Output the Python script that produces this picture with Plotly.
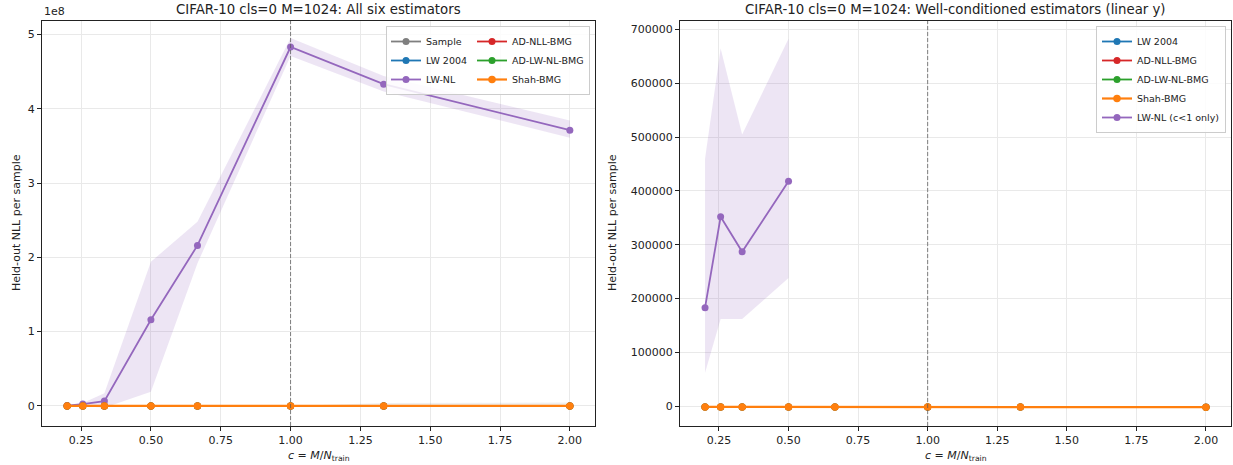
import plotly.graph_objects as go

# ---------------- data ----------------
c_vals = [0.2, 0.256, 1/3, 0.5, 2/3, 1.0, 4/3, 2.0]

# left panel (all six estimators)
sample_nll = [-1350, -1320, -1250, -1000, -400, -300, -200, -100]
sample_lo = [-1350, -1320, -1250, -1000, -400, -300, -200, -100]
sample_hi = [-1350, -1320, -1250, -1000, -400, -300, 3800000, 4600000]
lw2004_nll = [-1480, -1510, -1540, -1600, -1650, -1720, -1790, -1900]
lwnl_nll = [500000, 2500000, 6500000, 116000000, 216000000, 483000000, 433000000, 371000000]
lwnl_lo = [0, 0, -2500000, 19000000, 192000000, 471000000, 423000000, 361000000]
lwnl_hi = [600000, 4000000, 17000000, 194000000, 248000000, 495000000, 444000000, 384000000]
adnll_nll = [-1530, -1560, -1590, -1650, -1700, -1770, -1840, -1950]
adlwnl_nll = [-1520, -1550, -1580, -1640, -1690, -1760, -1830, -1940]
shah_nll = [-1550, -1580, -1610, -1670, -1720, -1790, -1860, -1970]

# right panel (LW-NL restricted to c<1)
c_small = [0.2, 0.256, 1/3, 0.5]
lwnl_small = [183000, 352000, 287000, 418000]
lwnl_small_lo = [62000, 162000, 162000, 238000]
lwnl_small_hi = [460000, 665000, 505000, 683000]

left_yticks = [0, 100000000, 200000000, 300000000, 400000000, 500000000]
left_yticktext = ["0", "1", "2", "3", "4", "5"]
right_yticks = [0, 100000, 200000, 300000, 400000, 500000, 600000, 700000]
xticks = [0.25, 0.5, 0.75, 1.0, 1.25, 1.5, 1.75, 2.0]

# ---------------- style ----------------
GRAY = "#7f7f7f"
BLUE = "#1f77b4"
PURPLE = "#9467bd"
RED = "#d62728"
GREEN = "#2ca02c"
ORANGE = "#ff7f0e"
FONT = "DejaVu Sans"
W, H = 1233, 465

fig = go.Figure()


def band(x, lo, hi, color, xa, ya):
    fig.add_trace(go.Scatter(
        x=list(x) + list(x)[::-1], y=list(hi) + list(lo)[::-1],
        fill="toself", fillcolor=color, line=dict(width=0),
        mode="lines", hoverinfo="skip", showlegend=False, xaxis=xa, yaxis=ya))


def series(x, y, name, color, xa, ya, legend, group=None, width=1.8, msize=7):
    fig.add_trace(go.Scatter(
        x=x, y=y, name=name, mode="lines+markers",
        line=dict(color=color, width=width),
        marker=dict(color=color, size=msize),
        xaxis=xa, yaxis=ya, legend=legend, legendgroup=group))


# left panel
band(c_vals, sample_lo, sample_hi, "rgba(127,127,127,0.12)", "x", "y")
series(c_vals, sample_nll, "Sample", GRAY, "x", "y", "legend", "col1")
series(c_vals, lw2004_nll, "LW 2004", BLUE, "x", "y", "legend", "col1")
band(c_vals, lwnl_lo, lwnl_hi, "rgba(148,103,189,0.17)", "x", "y")
series(c_vals, lwnl_nll, "LW-NL", PURPLE, "x", "y", "legend", "col1")
series(c_vals, adnll_nll, "AD-NLL-BMG", RED, "x", "y", "legend", "col2")
series(c_vals, adlwnl_nll, "AD-LW-NL-BMG", GREEN, "x", "y", "legend", "col2")
series(c_vals, shah_nll, "Shah-BMG", ORANGE, "x", "y", "legend", "col2", width=2.2, msize=7.5)

# right panel
band(c_small, lwnl_small_lo, lwnl_small_hi, "rgba(148,103,189,0.17)", "x2", "y2")
series(c_vals, lw2004_nll, "LW 2004", BLUE, "x2", "y2", "legend2")
series(c_vals, adnll_nll, "AD-NLL-BMG", RED, "x2", "y2", "legend2")
series(c_vals, adlwnl_nll, "AD-LW-NL-BMG", GREEN, "x2", "y2", "legend2")
series(c_vals, shah_nll, "Shah-BMG", ORANGE, "x2", "y2", "legend2", width=2.2, msize=7.5)
series(c_small, lwnl_small, "LW-NL (c<1 only)", PURPLE, "x2", "y2", "legend2")

axis_common = dict(
    showline=True, mirror=True, linecolor="#222", linewidth=1,
    ticks="outside", ticklen=4, tickcolor="#222", tickwidth=1,
    showgrid=True, gridcolor="#e9e9e9", gridwidth=1, zeroline=False,
    tickfont=dict(family=FONT, size=11, color="#222"),
)

fig.update_layout(
    width=W, height=H,
    margin=dict(l=0, r=0, t=0, b=0),
    paper_bgcolor="white", plot_bgcolor="white",
    font=dict(family=FONT, size=11, color="#222"),
    xaxis=dict(domain=[42 / W, 595 / W], range=[0.11, 2.09], tickvals=xticks,
               tickformat=".2f", anchor="y", **axis_common),
    yaxis=dict(domain=[1 - 426 / H, 1 - 21 / H], range=[-27000000, 518000000],
               tickvals=left_yticks, ticktext=left_yticktext, anchor="x", **axis_common),
    xaxis2=dict(domain=[680 / W, 1231 / W], range=[0.11, 2.09], tickvals=xticks,
                tickformat=".2f", anchor="y2", **axis_common),
    yaxis2=dict(domain=[1 - 426 / H, 1 - 21 / H], range=[-37000, 716000],
                tickvals=right_yticks, tickformat="d", anchor="x2", **axis_common),
    legend=dict(orientation="h", traceorder="grouped", xanchor="right", yanchor="top",
                x=590 / W, y=1 - 26 / H, bgcolor="rgba(255,255,255,0.85)",
                bordercolor="#cccccc", borderwidth=1, tracegroupgap=0,
                font=dict(family=FONT, size=9.5, color="#222")),
    legend2=dict(orientation="v", xanchor="right", yanchor="top",
                 x=1226 / W, y=1 - 26 / H, bgcolor="rgba(255,255,255,0.85)",
                 bordercolor="#cccccc", borderwidth=1, tracegroupgap=0,
                 font=dict(family=FONT, size=9.5, color="#222")),
    showlegend=True,
)

# dashed vertical lines at c = 1
for xr, yr in (("x", "y domain"), ("x2", "y2 domain")):
    fig.add_shape(type="line", xref=xr, yref=yr, x0=1.0, x1=1.0, y0=0, y1=1,
                  line=dict(color="rgba(90,90,90,0.75)", width=1, dash="4px,2px"))

ann = [
    dict(text="CIFAR-10 cls=0 M=1024: All six estimators", x=318.5 / W, y=1 - 10 / H,
         font=dict(size=13.3)),
    dict(text="CIFAR-10 cls=0 M=1024: Well-conditioned estimators (linear y)",
         x=955.5 / W, y=1 - 10 / H, font=dict(size=13.3)),
    dict(text="1e8", x=42 / W, y=1 - 12 / H, xanchor="left", font=dict(size=11)),
    dict(text="Held-out NLL per sample", x=17 / W, y=1 - 223 / H, textangle=-90,
         font=dict(size=11)),
    dict(text="Held-out NLL per sample", x=613 / W, y=1 - 223 / H, textangle=-90,
         font=dict(size=11)),
    dict(text="<i>c</i> = <i>M</i>/<i>N</i><sub>train</sub>", x=318.5 / W, y=1 - 456 / H,
         font=dict(size=11)),
    dict(text="<i>c</i> = <i>M</i>/<i>N</i><sub>train</sub>", x=955.5 / W, y=1 - 456 / H,
         font=dict(size=11)),
]
for a in ann:
    a.setdefault("xanchor", "center")
    fig.add_annotation(xref="paper", yref="paper", showarrow=False, yanchor="middle",
                       font_family=FONT, font_color="#222", **{k: v for k, v in a.items()})

fig.write_html(
    "out.html",
    config={"displayModeBar": False},
    post_script="document.body.style.margin='0';document.body.style.overflow='hidden';",
)
